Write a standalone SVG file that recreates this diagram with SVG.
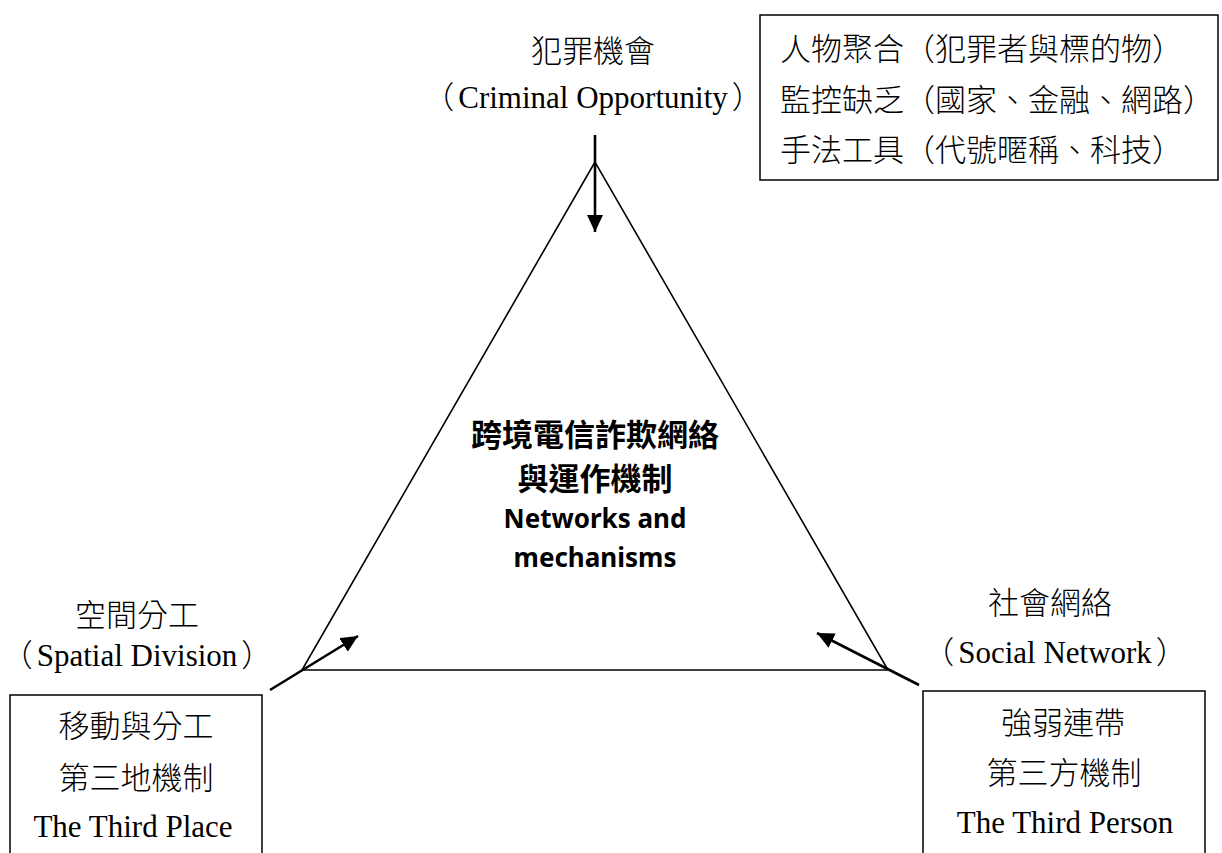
<svg xmlns="http://www.w3.org/2000/svg" width="1222" height="853" viewBox="0 0 1222 853">
<style>
.t{font-family:"Liberation Serif","Noto Sans CJK TC",serif;font-size:31px;font-weight:300;fill:#000}
.c{text-anchor:middle}
.b{font-family:"Noto Sans CJK TC","Noto Sans",sans-serif;font-size:31px;font-weight:bold;fill:#000;text-anchor:middle}
.be{font-family:"Noto Sans","Liberation Sans",sans-serif;font-size:26px;font-weight:bold;fill:#000;text-anchor:middle}
.box{fill:#fff;stroke:#000;stroke-width:1.5}
.tri{fill:none;stroke:#000;stroke-width:1.6}
.arr{stroke:#000;stroke-width:2.6;fill:none;marker-end:url(#ah)}
</style>
<defs>
<marker id="ah" markerUnits="userSpaceOnUse" markerWidth="18" markerHeight="18" viewBox="0 0 18 18" refX="17" refY="8" orient="auto">
<path d="M0,0 L17,8 L0,16 z" fill="#000"/>
</marker>
</defs>
<rect width="1222" height="853" fill="#fff"/>
<g id="triangle">
<polygon class="tri" points="595,162 302,670 888,670"/>
</g>
<g id="connectors">
<line class="arr" x1="595" y1="135" x2="595" y2="232"/>
<line class="arr" x1="270" y1="690" x2="358" y2="636"/>
<line class="arr" x1="919" y1="685" x2="817" y2="633"/>
</g>
<g id="center">
<text class="b" x="595" y="446">跨境電信詐欺網絡</text>
<text class="b" x="595" y="490">與運作機制</text>
<text class="be" x="595" y="528">Networks and</text>
<text class="be" x="595" y="567">mechanisms</text>
</g>
<g id="opportunity">
<text class="t c" x="593" y="62">犯罪機會</text>
<text class="t c" x="593" y="108">（<tspan dx="4">Criminal Opportunity</tspan><tspan dx="4">）</tspan></text>
</g>
<g id="opportunity-box">
<rect class="box" x="760" y="15" width="458" height="165"/>
<text class="t" x="780" y="60">人物聚合（犯罪者與標的物）</text>
<text class="t" x="780" y="111">監控缺乏（國家、金融、網路）</text>
<text class="t" x="780" y="161">手法工具（代號暱稱、科技）</text>
</g>
<g id="spatial">
<text class="t c" x="137" y="626">空間分工</text>
<text class="t c" x="137" y="666">（<tspan dx="4">Spatial Division</tspan><tspan dx="4">）</tspan></text>
</g>
<g id="spatial-box">
<rect class="box" x="10" y="695" width="252" height="175"/>
<text class="t c" x="136" y="737">移動與分工</text>
<text class="t c" x="136" y="789">第三地機制</text>
<text class="t c" x="133" y="837">The Third Place</text>
</g>
<g id="social">
<text class="t c" x="1050" y="614">社會網絡</text>
<text class="t c" x="1055" y="663">（<tspan dx="4">Social Network</tspan><tspan dx="4">）</tspan></text>
</g>
<g id="social-box">
<rect class="box" x="923" y="691" width="282" height="180"/>
<text class="t c" x="1063" y="734">強弱連帶</text>
<text class="t c" x="1064" y="784">第三方機制</text>
<text class="t c" x="1065" y="833">The Third Person</text>
</g>
</svg>
